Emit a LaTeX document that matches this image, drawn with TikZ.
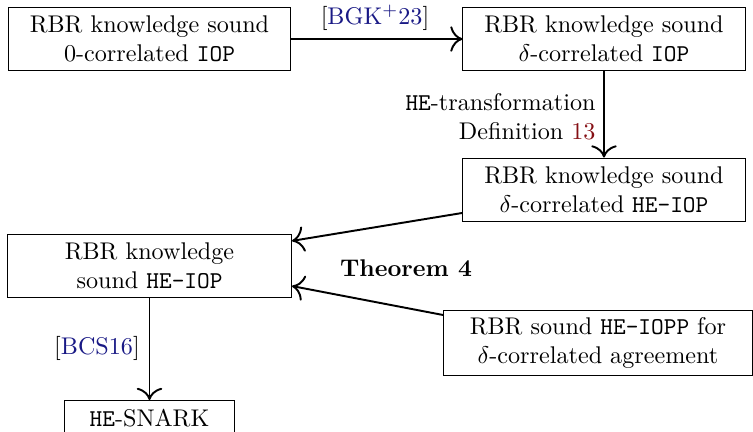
\documentclass[tikz,border=0pt]{standalone}
\usepackage{amsmath}
\usetikzlibrary{arrows.meta}
\definecolor{citeblue}{rgb}{0.1,0.1,0.52}
\definecolor{linkred}{rgb}{0.52,0.06,0.08}
\begin{document}
\begin{tikzpicture}[x=0.4141pt,y=-0.4141pt,
  box/.style={draw,line width=0.4pt,align=center,inner sep=0pt},
  conn/.style={-{To[scale=1.5]},line width=0.8pt},
  lbl/.style={inner sep=0pt}]
\useasboundingbox[clip] (0,0) rectangle (753,431);
\node[box,minimum width=116.4pt,minimum height=25.7pt] (A) at (149.5,39)
  {RBR knowledge sound\\0-correlated \texttt{IOP}};
\node[box,minimum width=116.8pt,minimum height=25.7pt] (B) at (604,39)
  {RBR knowledge sound\\$\delta$-correlated \texttt{IOP}};
\node[box,minimum width=116.8pt,minimum height=26.1pt] (C) at (604,189.5)
  {RBR knowledge sound\\$\delta$-correlated \texttt{HE-IOP}};
\node[box,minimum width=117.6pt,minimum height=25.7pt] (D) at (149.5,266)
  {RBR knowledge\\sound \texttt{HE-IOP}};
\node[box,minimum width=128pt,minimum height=26.9pt] (E) at (598,342.5)
  {RBR sound \texttt{HE-IOPP} for\\$\delta$-correlated agreement};
\node[box,minimum width=70pt,minimum height=14.5pt] (F) at (149.5,418)
  {\texttt{HE}-SNARK};
\draw[conn] (A.east) -- (B.west);
\node[lbl] (l1) at (375,18) {[\textcolor{citeblue}{BGK$^+$23}]};
\draw[conn] (B.south) -- (C.north);
\node[lbl,anchor=east,align=right] (l2) at (596,116.5)
  {\texttt{HE}-transformation\\Definition \textcolor{linkred}{13}};
\draw[conn] ([yshift=-9.7pt]C.west) -- ([yshift=10.4pt]D.east);
\draw[conn] ([yshift=11.4pt]E.west) -- ([yshift=-8.3pt]D.east);
\node[lbl] (t4) at (406,268) {\textbf{Theorem 4}};
\draw[conn] (D.south) -- (F.north);
\node[lbl] (l3) at (97,348) {[\textcolor{citeblue}{BCS16}]};
\end{tikzpicture}
\end{document}
